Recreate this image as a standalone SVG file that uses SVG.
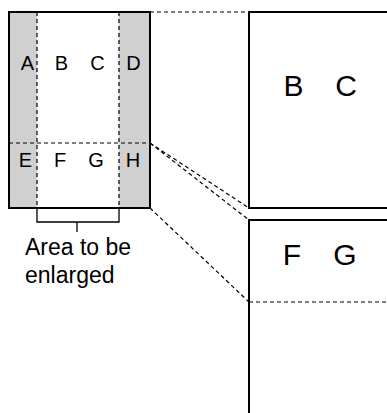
<svg xmlns="http://www.w3.org/2000/svg" width="387" height="413" viewBox="0 0 387 413">
<style>
.solid{fill:none;stroke:#000;stroke-width:2}
.thin{fill:none;stroke:#000;stroke-width:1.3}
.dash{fill:none;stroke:#000;stroke-width:1.2;stroke-dasharray:4,3}
.shade{fill:#d0d0d0;stroke:none}
.sm{font-family:"Liberation Sans",Arial,sans-serif;font-size:20px;text-anchor:middle;fill:#000}
.lg{font-family:"Liberation Sans",Arial,sans-serif;font-size:30px;text-anchor:middle;fill:#000}
.lbl{font-family:"Liberation Sans",Arial,sans-serif;font-size:23px;fill:#000}
</style>
<rect width="387" height="413" fill="#fff"/>
<g id="original">
<rect class="shade" x="9" y="12" width="28" height="196"/>
<rect class="shade" x="119" y="12" width="31" height="196"/>
<line class="dash" x1="37" y1="12" x2="37" y2="208"/>
<line class="dash" x1="119" y1="12" x2="119" y2="208"/>
<line class="dash" x1="9" y1="143" x2="150" y2="143"/>
<rect class="solid" x="9" y="12" width="141" height="196"/>
<text class="sm" x="27.5" y="69.5">A</text>
<text class="sm" x="61.5" y="69.5">B</text>
<text class="sm" x="97.5" y="69.5">C</text>
<text class="sm" x="133.5" y="69.5">D</text>
<text class="sm" x="25.5" y="167">E</text>
<text class="sm" x="60" y="167">F</text>
<text class="sm" x="96" y="167">G</text>
<text class="sm" x="133" y="167">H</text>
</g>
<g id="bracket">
<path class="thin" d="M37,209 V222 H119 V209 M77,222 V232"/>
<text class="lbl" x="25" y="255">Area to be</text>
<text class="lbl" x="25" y="283">enlarged</text>
</g>
<g id="enlarged-top">
<path class="solid" d="M388,12 H249 V208 H388"/>
<text class="lg" x="293.5" y="96">B</text>
<text class="lg" x="346" y="96">C</text>
</g>
<g id="enlarged-bottom">
<path class="solid" d="M388,220 H249 V414"/>
<line class="dash" x1="249" y1="302" x2="387" y2="302"/>
<text class="lg" x="292" y="265">F</text>
<text class="lg" x="345" y="265">G</text>
</g>
<g id="connectors">
<line class="dash" x1="150" y1="12" x2="249" y2="12"/>
<line class="dash" x1="150" y1="143" x2="249" y2="208"/>
<line class="dash" x1="150" y1="143" x2="249" y2="220"/>
<line class="dash" x1="150" y1="208" x2="249" y2="302"/>
</g>
</svg>
